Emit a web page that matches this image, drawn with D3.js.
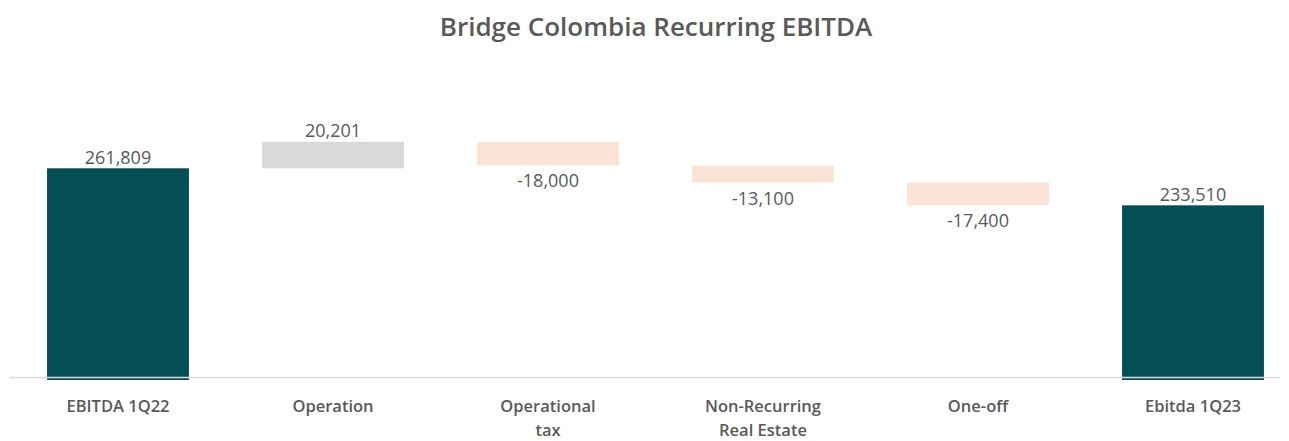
<!DOCTYPE html>
<html>
<head>
<meta charset="utf-8">
<script src="https://cdn.jsdelivr.net/npm/d3@7"></script>
<style>
  html, body { margin: 0; padding: 0; background: #ffffff; }
  svg { display: block; }
</style>
</head>
<body>
<svg id="chart" width="1289" height="441"></svg>
<script>
const title = "Bridge Colombia Recurring EBITDA";
const categories = ["EBITDA 1Q22", "Operation", "Operational\ntax", "Non-Recurring\nReal Estate", "One-off", "Ebitda 1Q23"];
const values = [261809, 20201, -18000, -13100, -17400, 233510];
const kinds = ["total", "increase", "decrease", "decrease", "decrease", "total"];
const yDomain = [100000, 350000];

const colors = { total: "#044f53", increase: "#d9d9d9", decrease: "#fbe4d5" };
const textColor = "#595959";

const svg = d3.select("#chart");

const x = d3.scaleBand().domain(categories).range([10.5, 1300.5]).paddingInner(0.34).paddingOuter(0.17);
const y = d3.scaleLinear().domain(yDomain).range([380, 380 - 250 * 1.3083]);

let running = 0;
const segs = categories.map((c, i) => {
  const v = values[i];
  let lo, hi;
  if (kinds[i] === "total") { lo = yDomain[0]; hi = v; running = v; }
  else { const start = running; running = start + v; lo = Math.min(start, running); hi = Math.max(start, running); }
  return { c, v, kind: kinds[i], lo, hi };
});

svg.append("text")
  .attr("x", 656).attr("y", 36)
  .attr("text-anchor", "middle")
  .attr("font-family", "Open Sans, sans-serif")
  .attr("font-weight", 600)
  .attr("font-size", 26)
  .attr("fill", textColor)
  .text(title);

svg.append("g").selectAll("rect").data(segs).join("rect")
  .attr("x", d => x(d.c))
  .attr("width", x.bandwidth())
  .attr("y", d => y(d.hi))
  .attr("height", d => y(d.lo) - y(d.hi))
  .attr("fill", d => colors[d.kind]);

const xAxis = d3.axisBottom(x).tickSize(0).tickFormat("");
const axisG = svg.append("g").attr("transform", `translate(0,${y(yDomain[0]) - 2.5})`).call(xAxis);
axisG.select(".domain").attr("stroke", "#d9d9d9").attr("stroke-width", 1.5).attr("d", "M10,0H1280");

const fmt = d3.formatLocale({ decimal: ".", thousands: ",", grouping: [3], currency: ["$", ""], minus: "-" }).format(",");
svg.append("g").selectAll("text").data(segs).join("text")
  .attr("x", d => x(d.c) + x.bandwidth() / 2)
  .attr("y", d => d.v >= 0 ? y(d.hi) - 4.5 : y(d.lo) + 22)
  .attr("text-anchor", "middle")
  .attr("font-family", "Open Sans, sans-serif")
  .attr("font-size", 18)
  .attr("fill", textColor)
  .text(d => fmt(d.v));

const catG = svg.append("g");
categories.forEach(c => {
  const lines = c.split("\n");
  const t = catG.append("text")
    .attr("x", x(c) + x.bandwidth() / 2)
    .attr("y", 412)
    .attr("text-anchor", "middle")
    .attr("font-family", "Open Sans, sans-serif")
    .attr("font-weight", 600)
    .attr("font-size", 16.5)
    .attr("fill", textColor);
  lines.forEach((l, i) => {
    t.append("tspan").attr("x", x(c) + x.bandwidth() / 2).attr("dy", i === 0 ? 0 : 24).text(l);
  });
});
</script>
</body>
</html>
